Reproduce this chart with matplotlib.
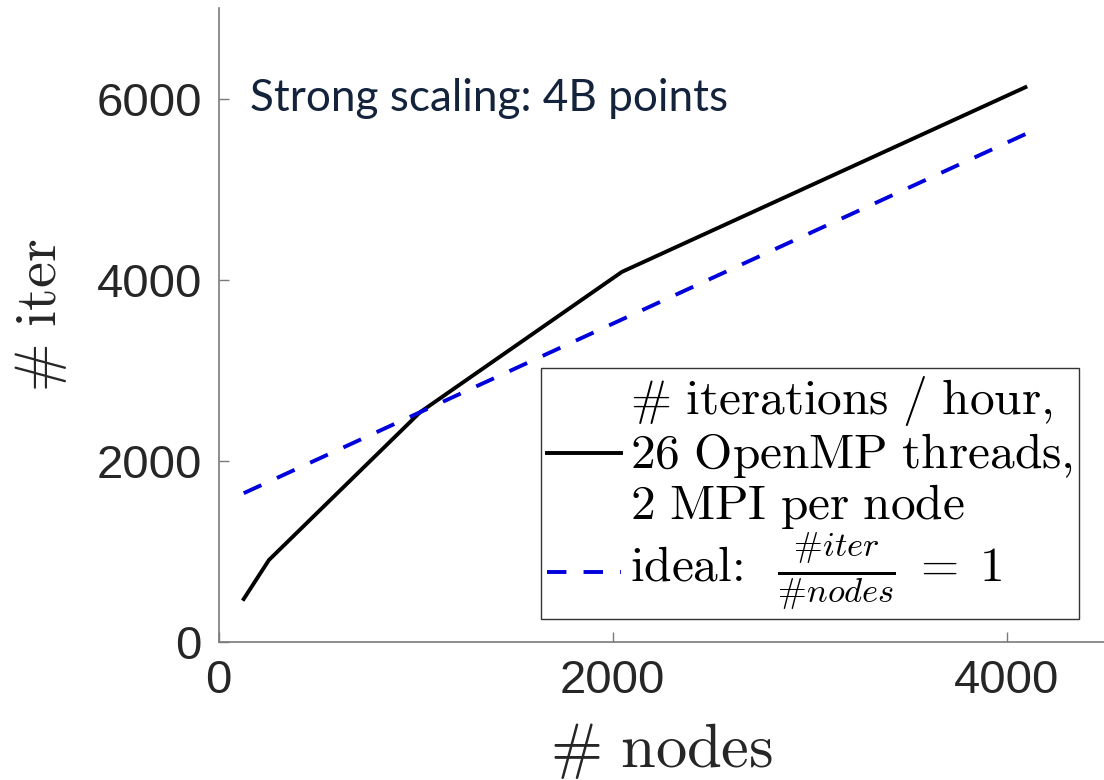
import matplotlib
matplotlib.use("Agg")
import matplotlib.pyplot as plt
from matplotlib.mathtext import MathTextParser

# Strong scaling run: iterations per hour against node count
nodes = [128, 256, 1024, 2048, 4096]
iters_per_hour = [475, 906, 2540, 4090, 6130]
ideal_iters = [1644, 1772, 2540, 3564, 5612]

x_ticks = [0, 2000, 4000]
y_ticks = [0, 2000, 4000, 6000]

plt.rcParams['mathtext.fontset'] = 'cm'
_parser = MathTextParser('path')


def first_parsable(options):
    for s in options:
        try:
            _parser.parse(s, dpi=72)
            return s
        except Exception:
            continue
    return options[-1]


hash_sym = first_parsable([r"$\#$", r"$\mathrm{\#}$", r"$\sharp$"])[1:-1]
frac = first_parsable([
    r"$\frac{\#iter}{\#nodes}$",
    r"$\frac{{\#}iter}{{\#}nodes}$",
    r"$\frac{" + hash_sym + r"\mathit{iter}}{" + hash_sym + r"\mathit{nodes}}$",
    r"$\frac{iter}{nodes}$",
])[1:-1]

measured_label = ("$" + hash_sym + r"\ \mathrm{iterations\ /\ hour,}$" + "\n"
                  r"$\mathrm{26\ OpenMP\ threads,}$" + "\n"
                  r"$\mathrm{2\ MPI\ per\ node}$")
ideal_label = "ideal:  $" + frac + r"\;=\;1$"
title_text = "Strong scaling: 4B points"

W, H = 1104, 780
fig = plt.figure(figsize=(W / 100, H / 100), dpi=100)
ax = fig.add_axes([218.5 / W, 138 / H, 886.5 / W, 633.5 / H])

ax.plot(nodes, iters_per_hour, color='black', lw=2.8, label=measured_label)
ax.plot(nodes, ideal_iters, color='#0000dd', lw=2.8,
        linestyle=(0, (5.0, 4.4)), label=ideal_label)

ax.set_xlim(0, 4500)
ax.set_ylim(0, 7000)
ax.set_xticks(x_ticks)
ax.set_yticks(y_ticks)

for side in ('top', 'right'):
    ax.spines[side].set_visible(False)
for side in ('left', 'bottom'):
    ax.spines[side].set_color('#7a7a7a')
    ax.spines[side].set_linewidth(1.2)

ax.tick_params(direction='in', length=7, width=1.0, color='#7a7a7a',
               labelsize=34, labelcolor='#262626', pad=12)
for lab in ax.get_xticklabels() + ax.get_yticklabels():
    lab.set_fontfamily('Liberation Sans')

ax.set_xlabel("$" + hash_sym + r"\ \mathrm{nodes}$", fontsize=45, color='#262626')
ax.set_ylabel("$" + hash_sym + r"\ \mathrm{iter}$", fontsize=42, color='#262626')
ax.xaxis.set_label_coords(0.5, -0.125)
ax.yaxis.set_label_coords(-0.169, 0.516)

ax.text(0.035, 0.8375, title_text, transform=ax.transAxes,
        fontfamily='Lato', fontsize=31.8, color='#14233c', va='baseline')

leg = ax.legend(loc='upper left', bbox_to_anchor=(541 / W, 1 - 368 / H),
                bbox_transform=fig.transFigure, borderaxespad=0,
                fontsize=35.5, handlelength=1.5, handletextpad=0.18,
                borderpad=0.12, labelspacing=0.0, fancybox=False,
                edgecolor='#333333', framealpha=1)
leg.get_frame().set_linewidth(1.0)
for t in leg.get_texts():
    t.set_fontfamily('cmr10')
    t.set_linespacing(1.07)
for column in leg._legend_handle_box.get_children():
    for row in column.get_children():
        row.align = 'center'

fig.savefig('out.png', dpi=100)
